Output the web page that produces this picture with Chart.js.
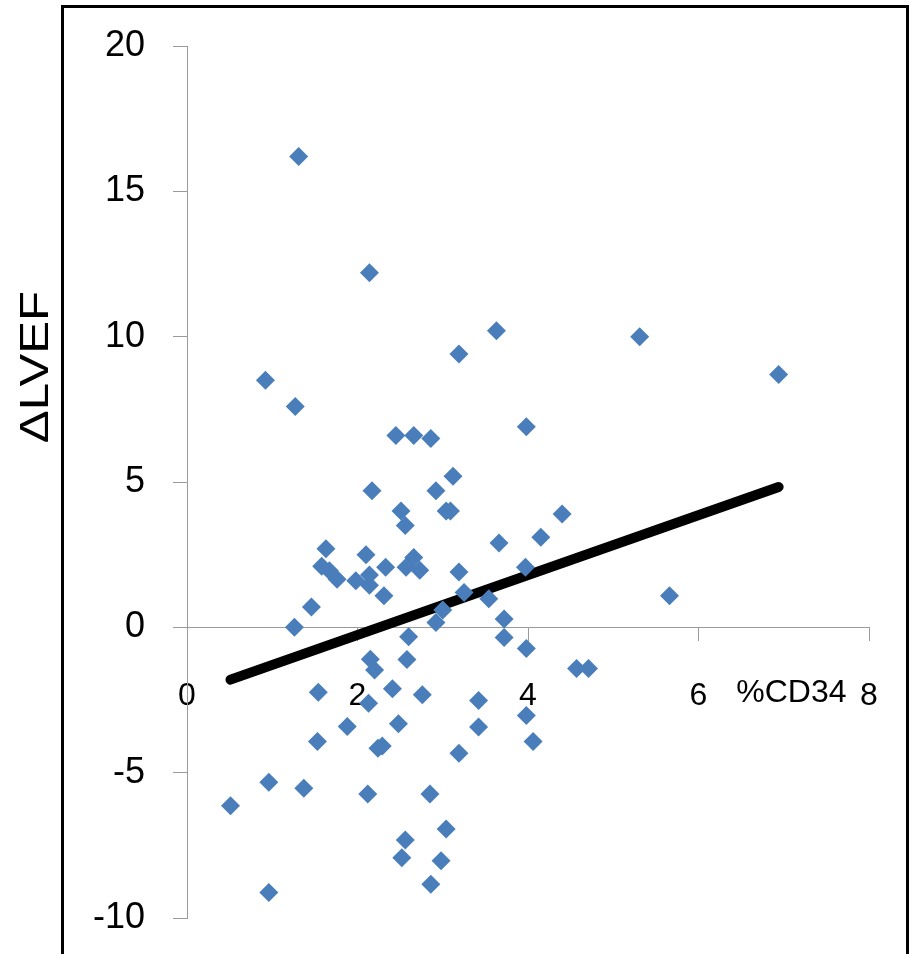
<!doctype html>
<html lang="en">
  <head>
    <meta charset="utf-8">
    <title>ΔLVEF vs %CD34</title>
    <style>
      * { margin: 0; padding: 0; }
      body { background: #fff; }
      .chartBox { width: 910px; height: 954px; }
    </style>
  </head>
  <body>
    <div class="chartBox">
      <canvas id="myChart" width="910" height="954"></canvas>
    </div>
    <script src="https://cdn.jsdelivr.net/npm/chart.js"></script>
    <script>
    // data
    const cd34 = [1.31, 2.14, 3.63, 5.31, 3.19, 6.94, 0.92, 1.27, 3.98, 2.45,
                  2.66, 2.86, 3.12, 2.17, 2.92, 2.51, 3.04, 3.09, 4.40, 2.56,
                  4.15, 3.66, 1.63, 2.10, 2.66, 1.58, 1.67, 1.76, 1.98, 2.14,
                  2.14, 2.33, 2.57, 2.73, 3.19, 3.97, 2.31, 3.25, 3.54, 5.66,
                  1.46, 1.26, 2.92, 3.00, 3.72, 2.60, 3.72, 3.98, 2.15, 2.20,
                  2.58, 4.57, 4.71, 1.54, 2.41, 2.76, 2.13, 3.42, 3.98, 1.88,
                  2.48, 3.42, 1.53, 2.24, 2.29, 4.06, 3.19, 0.96, 1.37, 2.12,
                  2.85, 0.51, 3.04, 2.56, 2.52, 2.98, 2.86, 0.96];
    const dLVEF = [16.2, 12.2, 10.2, 10.0, 9.4, 8.7, 8.5, 7.6, 6.9, 6.6,
                   6.6, 6.5, 5.2, 4.7, 4.7, 4.0, 4.0, 4.0, 3.9, 3.5,
                   3.1, 2.9, 2.7, 2.5, 2.4, 2.1, 1.95, 1.65, 1.6, 1.8,
                   1.45, 2.07, 2.07, 1.96, 1.9, 2.07, 1.09, 1.2, 0.98, 1.09,
                   0.7, 0.0, 0.17, 0.6, 0.29, -0.32, -0.35, -0.73, -1.1, -1.47,
                   -1.11, -1.42, -1.42, -2.23, -2.11, -2.32, -2.61, -2.52, -3.03, -3.41,
                   -3.32, -3.43, -3.93, -4.16, -4.08, -3.93, -4.33, -5.33, -5.54, -5.73,
                   -5.73, -6.14, -6.94, -7.32, -7.93, -8.03, -8.84, -9.12];
    // linear trendline ends
    const trendX = [0.51, 6.94];
    const trendY = [-1.80, 4.83];
    const xTicks = [0, 2, 4, 6, 8];
    const yTicks = [-10, -5, 0, 5, 10, 15, 20];

    const axisGrey = '#9a9a9a';

    // frame + axis titles plugin block
    const decorations = {
      id: 'decorations',
      afterDraw(chart) {
        const { ctx, scales: { x } } = chart;
        ctx.save();
        // black frame (open at the bottom)
        ctx.strokeStyle = '#000';
        ctx.lineWidth = 3;
        ctx.beginPath();
        ctx.moveTo(62.5, 954);
        ctx.lineTo(62.5, 6.5);
        ctx.lineTo(907.5, 6.5);
        ctx.lineTo(907.5, 954);
        ctx.stroke();

        // x title sits between the 6 and 8 labels
        ctx.fillStyle = '#000';
        ctx.font = '32px "Liberation Sans", Arial, sans-serif';
        ctx.textAlign = 'center';
        ctx.textBaseline = 'middle';
        ctx.fillText('%CD34', x.getPixelForValue(7.09), 693);

        // y title, rotated
        ctx.translate(36, 367);
        ctx.rotate(-Math.PI / 2);
        ctx.scale(1.23, 1);
        ctx.font = '40px "Liberation Sans", Arial, sans-serif';
        ctx.fillText('ΔLVEF', 0, 1);
        ctx.restore();
      }
    };

    const config = {
      type: 'scatter',
      data: {
        datasets: [{
          label: 'ΔLVEF',
          data: cd34.map((v, i) => ({ x: v, y: dLVEF[i] })),
          pointStyle: 'rectRot',
          pointRadius: 9.5,
          pointHoverRadius: 9.5,
          backgroundColor: '#4A7EBB',
          borderWidth: 0,
          order: 0
        }, {
          type: 'line',
          label: 'Linear',
          data: trendX.map((v, i) => ({ x: v, y: trendY[i] })),
          borderColor: '#000',
          borderWidth: 10,
          borderCapStyle: 'round',
          pointRadius: 0,
          fill: false,
          order: 1
        }]
      },
      options: {
        responsive: false,
        animation: false,
        layout: {
          padding: { left: 0, right: 41, top: 46, bottom: 36 }
        },
        scales: {
          x: {
            type: 'linear',
            position: { y: 0 },
            min: 0,
            max: 8,
            afterBuildTicks: (scale) => { scale.ticks = xTicks.map(v => ({ value: v })); },
            afterFit: (scale) => { scale.paddingLeft = 0; scale.paddingRight = 0; },
            grid: {
              drawOnChartArea: false,
              drawTicks: true,
              tickLength: 13,
              color: axisGrey
            },
            border: { color: axisGrey, width: 1 },
            ticks: {
              autoSkip: false,
              maxRotation: 0,
              padding: 37,
              color: '#000',
              font: { family: '"Liberation Sans", Arial, sans-serif', size: 32 }
            }
          },
          y: {
            type: 'linear',
            position: 'left',
            min: -10,
            max: 20,
            afterBuildTicks: (scale) => { scale.ticks = yTicks.map(v => ({ value: v })); },
            afterFit: (scale) => {
              scale.width = 187;
              scale.paddingTop = 0;
              scale.paddingBottom = 0;
            },
            grid: {
              drawOnChartArea: false,
              drawTicks: true,
              tickLength: 14,
              color: axisGrey
            },
            border: { color: axisGrey, width: 1 },
            ticks: {
              padding: 28,
              color: '#000',
              font: { family: '"Liberation Sans", Arial, sans-serif', size: 36 }
            }
          }
        },
        plugins: {
          legend: { display: false },
          tooltip: { enabled: false }
        }
      },
      plugins: [decorations]
    };

    const myChart = new Chart(document.getElementById('myChart'), config);
    </script>
  </body>
</html>
